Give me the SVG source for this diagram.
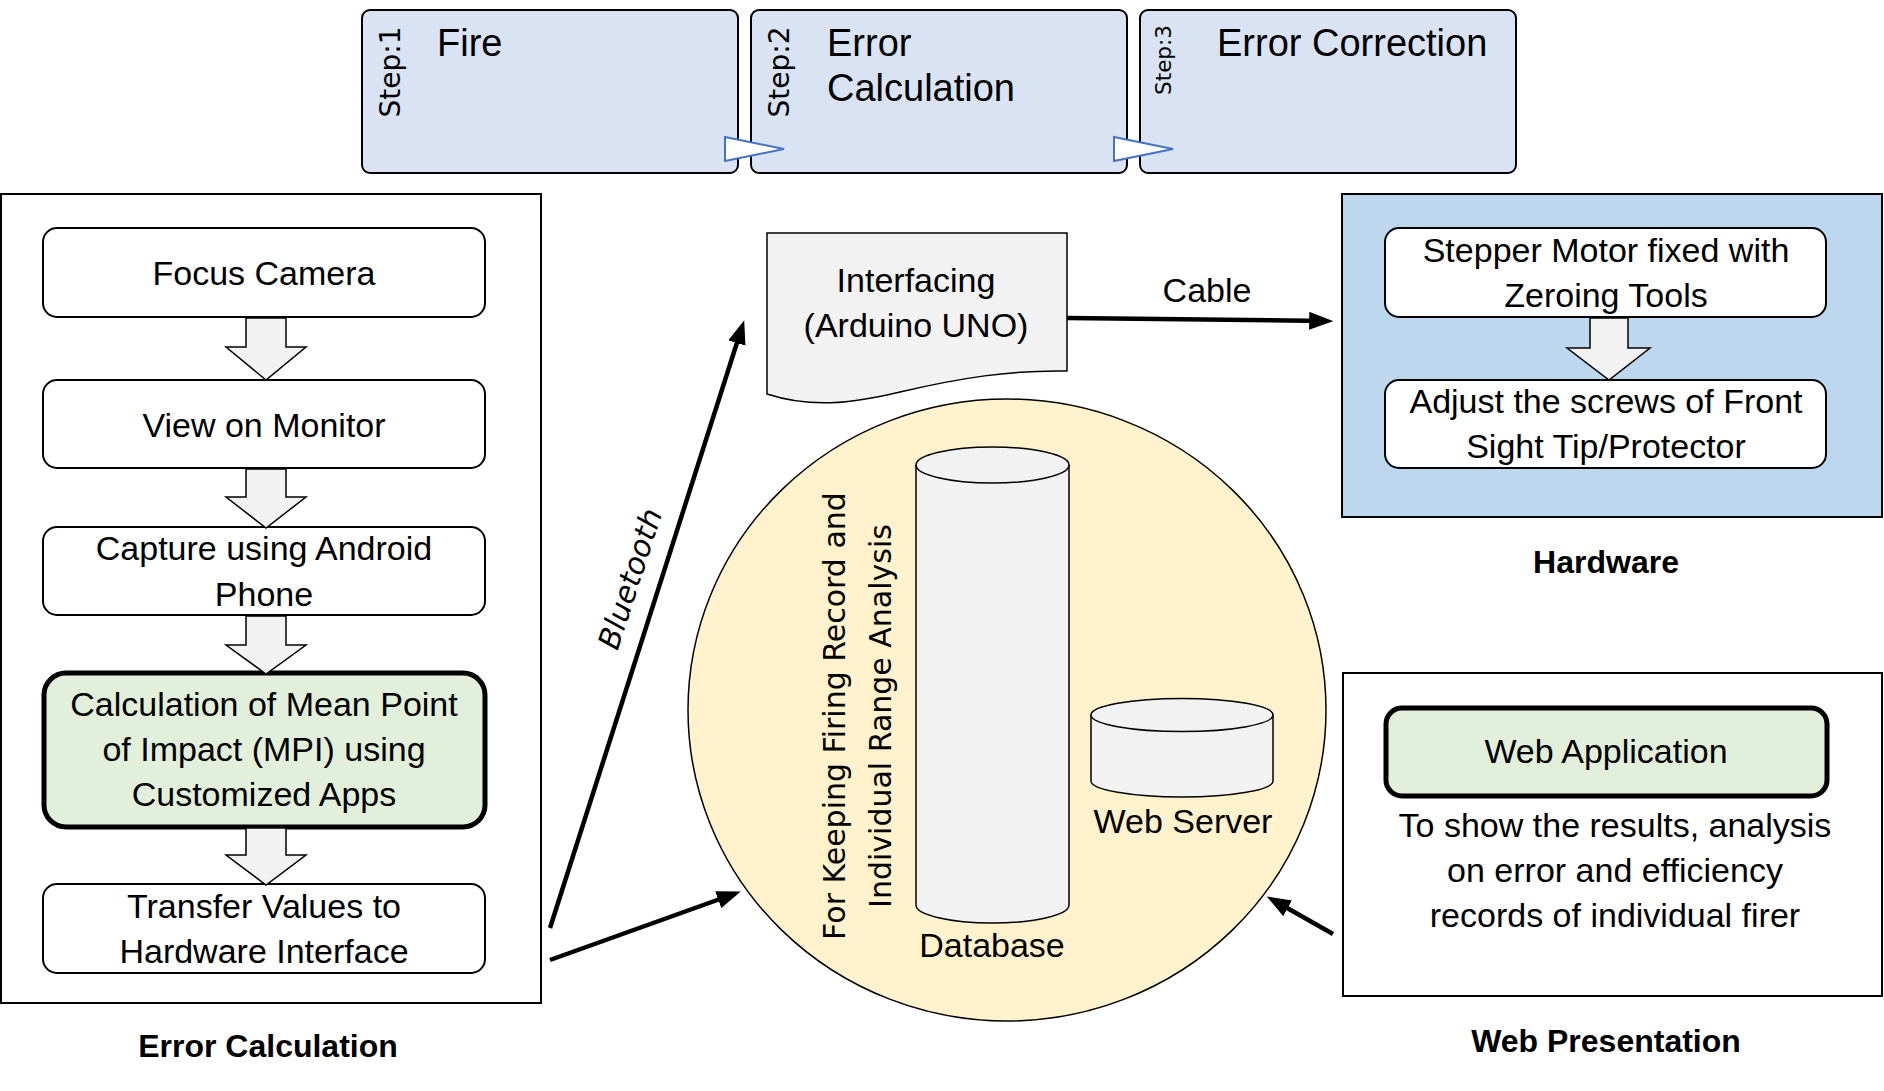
<svg xmlns="http://www.w3.org/2000/svg" width="1884" height="1091" viewBox="0 0 1884 1091">
<style>
.t{font-family:"Liberation Sans",Arial,sans-serif;font-size:34px;fill:#000;text-anchor:middle}
.st{font-family:"Liberation Sans",Arial,sans-serif;font-size:38px;fill:#000}
.b{font-family:"Liberation Sans",Arial,sans-serif;font-size:32px;font-weight:bold;fill:#000;text-anchor:middle}
.dv{font-family:"DejaVu Sans",Verdana,sans-serif;fill:#000;text-anchor:middle}
.box{fill:#fff;stroke:#000;stroke-width:2}
.step{fill:#dae3f3;stroke:#000;stroke-width:2}
.green{fill:#e2efda;stroke:#000;stroke-width:5}
.blk{fill:#f2f2f2;stroke:#000;stroke-width:1.5}
.tri{fill:#fff;stroke:#4472c4;stroke-width:2}
.con{stroke:#000;stroke-width:4.5;fill:none;marker-end:url(#ah)}
</style>
<defs>
<marker id="ah" viewBox="0 0 10 10" refX="7" refY="5" markerWidth="24" markerHeight="18" markerUnits="userSpaceOnUse" preserveAspectRatio="none" orient="auto">
<path d="M0,0 L10,5 L0,10 z" fill="#000"/>
</marker>
</defs>
<rect width="1884" height="1091" fill="#fff"/>

<g id="step1">
<rect class="step" x="362" y="10" width="376" height="163" rx="8"/>
<text class="dv" font-size="28" transform="translate(400,72) rotate(-90)">Step:1</text>
<text class="st" x="437" y="56">Fire</text>
</g>
<g id="step2">
<rect class="step" x="751" y="10" width="376" height="163" rx="8"/>
<text class="dv" font-size="28" transform="translate(789,72) rotate(-90)">Step:2</text>
<text class="st" x="827" y="56">Error</text>
<text class="st" x="827" y="101">Calculation</text>
</g>
<g id="step3">
<rect class="step" x="1140" y="10" width="376" height="163" rx="8"/>
<text class="dv" font-size="21.5" transform="translate(1171,60) rotate(-90)">Step:3</text>
<text class="st" x="1217" y="56">Error Correction</text>
</g>
<g id="step-arrows">
<polygon class="tri" points="725,137 784,149 725,161"/>
<polygon class="tri" points="1114,137 1173,149 1114,161"/>
</g>

<g id="error-calculation">
<rect class="box" x="1" y="194" width="540" height="809"/>
<g id="focus-camera">
<rect class="box" x="43" y="228" width="442" height="89" rx="14"/>
<text class="t" x="264" y="285">Focus Camera</text>
</g>
<g id="view-monitor">
<rect class="box" x="43" y="380" width="442" height="88" rx="14"/>
<text class="t" x="264" y="437">View on Monitor</text>
</g>
<g id="capture">
<rect class="box" x="43" y="527" width="442" height="88" rx="14"/>
<text class="t" x="264" y="560">Capture using Android</text>
<text class="t" x="264" y="606">Phone</text>
</g>
<g id="mpi">
<rect class="green" x="44" y="673" width="441" height="154" rx="22"/>
<text class="t" x="264" y="716">Calculation of Mean Point</text>
<text class="t" x="264" y="761">of Impact (MPI) using</text>
<text class="t" x="264" y="806">Customized Apps</text>
</g>
<g id="transfer">
<rect class="box" x="43" y="884" width="442" height="89" rx="14"/>
<text class="t" x="264" y="918">Transfer Values to</text>
<text class="t" x="264" y="963">Hardware Interface</text>
</g>
<polygon class="blk" points="246,318 286,318 286,347 306,347 266,380 226,347 246,347"/>
<polygon class="blk" points="246,469 286,469 286,497 306,497 266,528 226,497 246,497"/>
<polygon class="blk" points="246,616 286,616 286,645 306,645 266,674 226,645 246,645"/>
<polygon class="blk" points="246,828 286,828 286,855 306,855 266,885 226,855 246,855"/>
<text class="b" x="268" y="1057">Error Calculation</text>
</g>

<g id="interfacing">
<path d="M767,233 H1067 V371 C1010,370 960,378 900,392 C850,404 810,408 767,394 Z" fill="#f2f2f2" stroke="#000" stroke-width="1.5"/>
<text class="t" x="916" y="292">Interfacing</text>
<text class="t" x="916" y="337">(Arduino UNO)</text>
</g>

<g id="storage">
<ellipse cx="1007" cy="710" rx="319" ry="311" fill="#fff2cc" stroke="#000" stroke-width="1.5"/>
<text class="dv" font-size="30" transform="translate(845,716) rotate(-90)">For Keeping Firing Record and</text>
<text class="dv" font-size="30" transform="translate(891,716) rotate(-90)">Individual Range Analysis</text>
<g id="database">
<path d="M916,465 V905 A76.5,18 0 0 0 1069,905 V465" fill="#f2f2f2" stroke="#000" stroke-width="1.5"/>
<ellipse cx="992.5" cy="465" rx="76.5" ry="18" fill="#f2f2f2" stroke="#000" stroke-width="1.5"/>
<text class="t" x="992" y="957">Database</text>
</g>
<g id="web-server">
<path d="M1091,715 V781 A91,16 0 0 0 1273,781 V715" fill="#f2f2f2" stroke="#000" stroke-width="1.5"/>
<ellipse cx="1182" cy="715" rx="91" ry="16.5" fill="#f2f2f2" stroke="#000" stroke-width="1.5"/>
<text class="t" x="1183" y="833">Web Server</text>
</g>
</g>

<g id="hardware">
<rect x="1342" y="194" width="540" height="323" fill="#bdd7ee" stroke="#000" stroke-width="2"/>
<g id="stepper">
<rect class="box" x="1385" y="228" width="441" height="89" rx="14"/>
<text class="t" x="1606" y="262">Stepper Motor fixed with</text>
<text class="t" x="1606" y="307">Zeroing Tools</text>
</g>
<g id="adjust">
<rect class="box" x="1385" y="380" width="441" height="88" rx="14"/>
<text class="t" x="1606" y="413">Adjust the screws of Front</text>
<text class="t" x="1606" y="458">Sight Tip/Protector</text>
</g>
<polygon class="blk" points="1590,318 1628,318 1628,348 1650,348 1609,380 1567,348 1590,348"/>
<text class="b" x="1606" y="573">Hardware</text>
</g>

<g id="web-presentation">
<rect class="box" x="1343" y="673" width="539" height="323"/>
<g id="web-app">
<rect class="green" x="1386" y="708" width="441" height="88" rx="16"/>
<text class="t" x="1606" y="763">Web Application</text>
</g>
<text class="t" x="1615" y="837">To show the results, analysis</text>
<text class="t" x="1615" y="882">on error and efficiency</text>
<text class="t" x="1615" y="927">records of individual firer</text>
<text class="b" x="1606" y="1052">Web Presentation</text>
</g>

<g id="connectors">
<line class="con" x1="550" y1="928" x2="742" y2="327"/>
<line class="con" x1="550" y1="960" x2="734" y2="894"/>
<line class="con" x1="1067" y1="318" x2="1326" y2="321"/>
<line class="con" x1="1333" y1="934" x2="1273" y2="900"/>
<text class="dv" font-size="30" font-style="italic" transform="translate(640,582) rotate(-72)">Bluetooth</text>
<text class="t" x="1207" y="302">Cable</text>
</g>
</svg>
